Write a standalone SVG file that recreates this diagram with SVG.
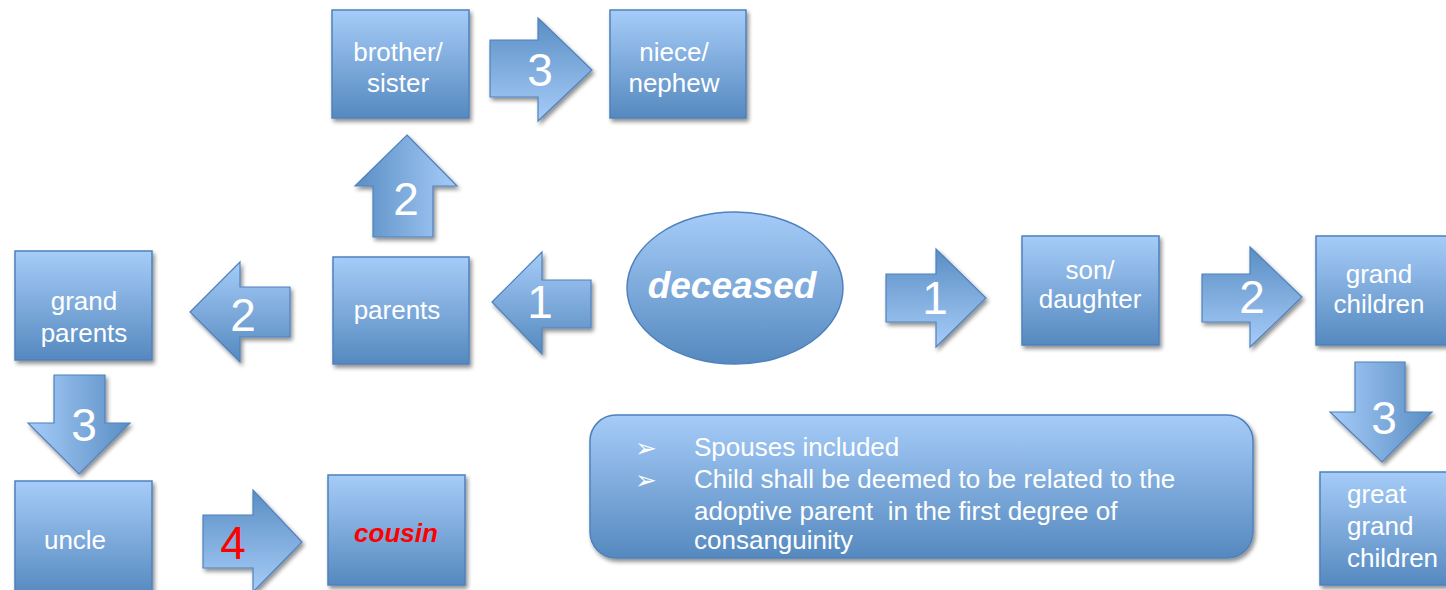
<svg xmlns="http://www.w3.org/2000/svg" width="1446" height="590" viewBox="0 0 1446 590">
<defs>
<linearGradient id="gV" x1="0" y1="0" x2="0" y2="1"><stop offset="0" stop-color="#a6ccf8"/><stop offset="1" stop-color="#5589bf"/></linearGradient>
<linearGradient id="gVr" x1="0" y1="0" x2="0" y2="1"><stop offset="0" stop-color="#5a8ec4"/><stop offset="1" stop-color="#a6ccf8"/></linearGradient>
<linearGradient id="gH" x1="0" y1="0" x2="1" y2="0"><stop offset="0" stop-color="#5a8ec4"/><stop offset="1" stop-color="#a6ccf8"/></linearGradient>
<linearGradient id="gHr" x1="0" y1="0" x2="1" y2="0"><stop offset="0" stop-color="#a6ccf8"/><stop offset="1" stop-color="#5a8ec4"/></linearGradient>
<filter id="sh" x="-10%" y="-10%" width="130%" height="130%"><feGaussianBlur in="SourceAlpha" stdDeviation="2"/><feOffset dx="2" dy="3"/><feComponentTransfer><feFuncA type="linear" slope="0.45"/></feComponentTransfer><feMerge><feMergeNode/><feMergeNode in="SourceGraphic"/></feMerge></filter>
</defs>
<style>
.box{fill:url(#gV);stroke:#4f81bd;stroke-width:1.5;filter:url(#sh)}
.t{font-family:"Liberation Sans",Arial,sans-serif;font-size:26px;fill:#fff;text-anchor:middle}
.n{font-family:"Liberation Sans",Arial,sans-serif;font-size:46px;fill:#fff;text-anchor:middle}
.ar{stroke:#4f81bd;stroke-width:1.2;filter:url(#sh)}
.b{font-family:"DejaVu Sans",sans-serif;font-size:26px;fill:#fff}
</style>
<rect width="1446" height="590" fill="#fff"/>
<g id="connectors">
<g id="a-up2"><polygon class="ar" fill="url(#gH)" points="407,135 457,186 433,186 433,237 373,237 373,186 355,186"/><text class="n" x="406" y="215">2</text></g>
<g id="a-right3"><polygon class="ar" fill="url(#gVr)" points="490,40 538,40 538,18 592,70 538,121 538,97 490,97"/><text class="n" x="540" y="86">3</text></g>
<g id="a-left2"><polygon class="ar" fill="url(#gV)" points="190,312 240,262 240,287 290,287 290,337 240,337 240,362"/><text class="n" x="243" y="331">2</text></g>
<g id="a-left1"><polygon class="ar" fill="url(#gV)" points="492,302 542,252 542,280 591,280 591,328 542,328 542,354"/><text class="n" x="540" y="318">1</text></g>
<g id="a-right1"><polygon class="ar" fill="url(#gVr)" points="886,274 936,274 936,249 986,298 936,347 936,322 886,322"/><text class="n" x="935" y="314">1</text></g>
<g id="a-right2"><polygon class="ar" fill="url(#gVr)" points="1202,274 1250,274 1250,247 1302,297 1250,347 1250,322 1202,322"/><text class="n" x="1252" y="313">2</text></g>
<g id="a-down3r"><polygon class="ar" fill="url(#gHr)" points="1355,362 1405,362 1405,412 1432,412 1382,462 1330,412 1355,412"/><text class="n" x="1384" y="434">3</text></g>
<g id="a-down3l"><polygon class="ar" fill="url(#gHr)" points="54,375 105,375 105,423 130,423 79,474 28,423 54,423"/><text class="n" x="84" y="441">3</text></g>
<g id="a-right4"><polygon class="ar" fill="url(#gVr)" points="203,515 253,515 253,490 302,542 253,592 253,568 203,568"/><text class="n" x="233" y="559" style="fill:#ff0000">4</text></g>
</g>
<g id="n-brother"><rect class="box" x="332" y="10" width="137" height="108"/><text class="t" x="398" y="61">brother/</text><text class="t" x="398" y="92">sister</text></g>
<g id="n-niece"><rect class="box" x="610" y="10" width="136" height="108"/><text class="t" x="674" y="61">niece/</text><text class="t" x="674" y="92">nephew</text></g>
<g id="n-grandparents"><rect class="box" x="15" y="251" width="137" height="109"/><text class="t" x="84" y="310">grand</text><text class="t" x="84" y="342">parents</text></g>
<g id="n-parents"><rect class="box" x="333" y="257" width="136" height="107"/><text class="t" x="397" y="319">parents</text></g>
<g id="n-deceased"><ellipse cx="735" cy="288" rx="108" ry="76" fill="url(#gV)" stroke="#4f81bd" stroke-width="1.5"/><text x="732" y="298" style="font-family:'Liberation Sans',Arial,sans-serif;font-size:37px;font-weight:bold;font-style:italic;fill:#fff;text-anchor:middle">deceased</text></g>
<g id="n-son"><rect class="box" x="1022" y="236" width="137" height="109"/><text class="t" x="1090" y="279">son/</text><text class="t" x="1090" y="308">daughter</text></g>
<g id="n-grandchildren"><rect class="box" x="1316" y="236" width="135" height="109"/><text class="t" x="1379" y="283">grand</text><text class="t" x="1379" y="313">children</text></g>
<g id="n-greatgrand"><rect class="box" x="1320" y="472" width="131" height="113"/><text class="t" x="1347" y="503" style="text-anchor:start">great</text><text class="t" x="1347" y="535" style="text-anchor:start">grand</text><text class="t" x="1347" y="567" style="text-anchor:start">children</text></g>
<g id="n-uncle"><rect class="box" x="15" y="481" width="137" height="115"/><text class="t" x="75" y="549">uncle</text></g>
<g id="n-cousin"><rect class="box" x="328" y="475" width="137" height="110"/><text class="t" x="396" y="542" style="fill:#ff0000;font-weight:bold;font-style:italic">cousin</text></g>
<g id="n-note"><rect x="590" y="415" width="663" height="143" rx="26" fill="url(#gV)" stroke="#4f81bd" stroke-width="1.5" filter="url(#sh)"/>
<text class="b" x="635" y="457">➢</text><text class="b" x="635" y="489">➢</text>
<g style="font-family:'Liberation Sans',Arial,sans-serif;font-size:26px;fill:#fff">
<text x="694" y="456">Spouses included</text>
<text x="694" y="488">Child shall be deemed to be related to the</text>
<text x="694" y="520" xml:space="preserve">adoptive parent  in the first degree of</text>
<text x="694" y="549">consanguinity</text></g></g>
</svg>
